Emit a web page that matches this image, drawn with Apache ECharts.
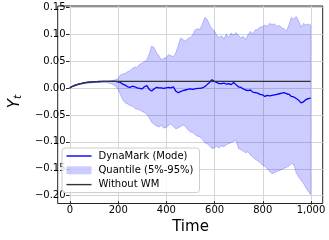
<!DOCTYPE html>
<html><head><meta charset="utf-8">
<script src="https://cdn.jsdelivr.net/npm/echarts@6/dist/echarts.min.js"></script>
<style>html,body{margin:0;padding:0;background:#fff}#c{width:329px;height:240px}</style>
</head><body><div id="c"></div>
<script>
const time = [0,10,20,30,40,50,60,70,80,90,100,110,120,130,140,150,160,170,180,190,
200,210,220,230,240,250,260,270,280,290,300,310,320,330,340,350,360,370,380,390,
400,410,420,430,440,450,460,470,480,490,500,510,520,530,540,550,560,570,580,590,
600,610,620,630,640,650,660,670,680,690,700,710,720,730,740,750,760,770,780,790,
800,810,820,830,840,850,860,870,880,890,900,910,920,930,940,950,960,970,980,990,1000];

const upperQ = [0.000,0.002,0.003,0.005,0.006,0.007,0.008,0.009,0.009,0.010,0.010,0.011,0.011,0.011,0.012,0.012,0.012,0.013,0.014,0.015,
0.017,0.024,0.026,0.027,0.030,0.032,0.036,0.039,0.038,0.044,
0.046,0.049,0.052,0.063,0.078,0.075,0.066,0.060,0.052,0.055,
0.056,0.062,0.060,0.058,0.065,0.078,0.093,0.090,0.087,0.092,
0.094,0.098,0.108,0.110,0.109,0.118,0.131,0.128,0.118,0.110,
0.107,0.098,0.094,0.097,0.091,0.100,0.094,0.102,0.098,0.103,
0.098,0.093,0.096,0.090,0.099,0.105,0.101,0.108,0.109,0.113,
0.114,0.117,0.115,0.120,0.118,0.119,0.115,0.116,0.112,0.110,
0.106,0.118,0.131,0.128,0.133,0.125,0.113,0.120,0.117,0.119,
0.117];

const lowerQ = [0.000,0.002,0.003,0.005,0.006,0.007,0.008,0.008,0.009,0.009,0.010,0.010,0.010,0.010,0.010,0.010,0.009,0.008,0.006,0.003,
-0.002,-0.012,-0.022,-0.028,-0.030,-0.033,-0.034,-0.038,-0.040,-0.041,
-0.044,-0.046,-0.049,-0.056,-0.064,-0.068,-0.071,-0.073,-0.070,-0.075,
-0.074,-0.070,-0.067,-0.072,-0.076,-0.075,-0.072,-0.069,-0.072,-0.078,
-0.082,-0.083,-0.087,-0.090,-0.091,-0.096,-0.102,-0.104,-0.108,-0.113,
-0.112,-0.109,-0.112,-0.108,-0.110,-0.106,-0.104,-0.102,-0.100,-0.097,
-0.113,-0.115,-0.118,-0.121,-0.119,-0.125,-0.129,-0.133,-0.136,-0.139,
-0.144,-0.146,-0.151,-0.156,-0.160,-0.158,-0.156,-0.154,-0.152,-0.150,
-0.148,-0.146,-0.141,-0.143,-0.158,-0.166,-0.172,-0.178,-0.186,-0.193,
-0.199];

const modeVals = [0.000,0.0025,0.0045,0.006,0.0075,0.0085,0.0093,0.010,0.0105,0.011,0.0113,0.0115,0.0118,0.0119,0.012,0.012,0.0121,0.0122,0.0122,0.012,
0.011,0.010,0.007,0.005,0.002,0.001,0.003,0.002,0.000,-0.001,
-0.002,0.002,0.004,-0.003,-0.006,-0.002,0.001,0.000,0.000,-0.001,
0.000,0.001,0.000,0.002,-0.006,-0.009,-0.007,-0.005,-0.004,-0.003,
-0.002,-0.003,-0.002,-0.001,-0.001,0.000,0.002,0.006,0.010,0.015,
0.012,0.010,0.008,0.008,0.009,0.007,0.008,0.006,0.010,0.006,
0.002,0.001,-0.002,-0.004,-0.005,-0.004,-0.008,-0.009,-0.010,-0.012,
-0.013,-0.016,-0.014,-0.015,-0.014,-0.013,-0.012,-0.011,-0.010,-0.009,
-0.011,-0.012,-0.016,-0.017,-0.020,-0.023,-0.028,-0.026,-0.022,-0.020,
-0.019];

const wmTime = [0,10,20,30,40,50,60,70,80,90,100,120,140,160,180,200,300,400,600,800,1000];
const wmVals = [0,0.0025,0.0045,0.006,0.0075,0.0085,0.0093,0.010,0.0105,0.011,0.0113,0.0117,0.0119,0.0121,0.0122,0.0122,0.0122,0.0122,0.0122,0.0122,0.0122];

const xTicks = [0,200,400,600,800,1000];
const yTicks = [-0.20,-0.15,-0.10,-0.05,0.00,0.05,0.10,0.15];

const FONT = 'DejaVu Sans';
const pairs = (xs, ys) => xs.map((x, i) => [x, ys[i]]);
const LINE_ICON = 'path://M0,0 M0,3.3 L25,3.3 L25,4.7 L0,4.7 Z M25,8';

const chart = echarts.init(document.getElementById('c'), null, {renderer: 'canvas'});
chart.setOption({
  animation: false,
  grid: [
    {left: 57.7, right: 6.3, top: 6, bottom: 36.5, show: true, borderColor: '#262626', borderWidth: 1, backgroundColor: 'transparent', containLabel: false},
    {left: 70, right: 18, top: 6, bottom: 36.5, containLabel: false},
    {left: 57.7, right: 6.3, top: 7.4, bottom: 44.3, containLabel: false}
  ],
  xAxis: [
    {gridIndex: 0, type: 'value', min: -50, max: 1050, show: false},
    {gridIndex: 1, type: 'value', min: xTicks[0], max: xTicks[xTicks.length - 1], interval: 200,
      axisLine: {show: false},
      axisTick: {show: true, length: 3.5, lineStyle: {color: '#262626', width: 1}},
      axisLabel: {fontFamily: FONT, fontSize: 10, color: '#000', margin: 4},
      splitLine: {show: true, lineStyle: {color: '#d6d6d6', width: 1}},
      name: 'Time', nameLocation: 'middle', nameGap: 15,
      nameTextStyle: {fontFamily: FONT, fontSize: 15, color: '#000'}
    },
    {gridIndex: 2, type: 'value', min: 0, max: 1, show: false}
  ],
  yAxis: [
    {gridIndex: 0, type: 'value', min: -0.2155, max: 0.1525, show: false},
    {gridIndex: 1, type: 'value', min: 0, max: 1, show: false},
    {gridIndex: 2, type: 'value', min: yTicks[0], max: yTicks[yTicks.length - 1], interval: 0.05,
      axisLine: {show: false},
      axisTick: {show: true, length: 3.5, lineStyle: {color: '#262626', width: 1}},
      axisLabel: {fontFamily: FONT, fontSize: 10, color: '#000', margin: 4,
        formatter: v => (v < -1e-9 ? '\u2212' : '') + Math.abs(v).toFixed(2)},
      splitLine: {show: true, lineStyle: {color: '#d6d6d6', width: 1}},
      name: '{a|Y}{b|t}', nameLocation: 'middle', nameRotate: 90, nameGap: 39,
      nameTextStyle: {fontFamily: FONT, color: '#000',
        rich: {
          a: {fontFamily: FONT, fontSize: 15, fontStyle: 'italic', lineHeight: 17, color: '#000'},
          b: {fontFamily: FONT, fontSize: 10.5, fontStyle: 'italic', lineHeight: 17, verticalAlign: 'bottom', color: '#000'}
        }}
    }
  ],
  legend: {
    left: 62, top: 148, orient: 'vertical',
    padding: [3, 6, 3, 4.5], itemGap: 4.3, itemWidth: 25, itemHeight: 8,
    backgroundColor: 'rgba(255,255,255,0.8)', borderColor: '#cccccc', borderWidth: 1, borderRadius: 3,
    textStyle: {fontFamily: FONT, fontSize: 10, color: '#000', padding: [0, 0, 0, 2]},
    data: [
      {name: 'DynaMark (Mode)', icon: LINE_ICON, itemStyle: {color: '#0000ff', borderWidth: 0}},
      {name: 'Quantile (5%-95%)', icon: 'rect', itemStyle: {color: 'rgba(0,0,255,0.2)', borderWidth: 0}},
      {name: 'Without WM', icon: LINE_ICON, itemStyle: {color: '#333333', borderWidth: 0}}
    ]
  },
  series: [
    {name: 'DynaMark (Mode)', type: 'line', xAxisIndex: 0, yAxisIndex: 0, data: pairs(time, modeVals),
      symbol: 'none', showSymbol: false, lineStyle: {color: '#0000ff', width: 1.3}, itemStyle: {color: '#0000ff'}, z: 2},
    {name: 'Quantile (5%-95%)', type: 'custom', xAxisIndex: 0, yAxisIndex: 0,
      data: time.map((t, i) => [t, lowerQ[i], upperQ[i]]),
      encode: {x: 0, y: [1, 2]},
      itemStyle: {color: 'rgba(0,0,255,0.2)'},
      renderItem: (params, api) => {
        if (params.dataIndex !== 0) return null;
        const pts = [];
        for (let i = 0; i < time.length; i++) pts.push(api.coord([time[i], upperQ[i]]));
        for (let i = time.length - 1; i >= 0; i--) pts.push(api.coord([time[i], lowerQ[i]]));
        return {type: 'polygon', shape: {points: pts},
          style: {fill: 'rgba(0,0,255,0.2)', stroke: 'rgba(0,0,255,0.28)', lineWidth: 0.8}};
      }, z: 3},
    {name: 'Without WM', type: 'line', xAxisIndex: 0, yAxisIndex: 0, data: pairs(wmTime, wmVals),
      symbol: 'none', showSymbol: false, lineStyle: {color: '#333333', width: 1.3}, itemStyle: {color: '#333333'}, z: 4}
  ]
});
</script></body></html>
